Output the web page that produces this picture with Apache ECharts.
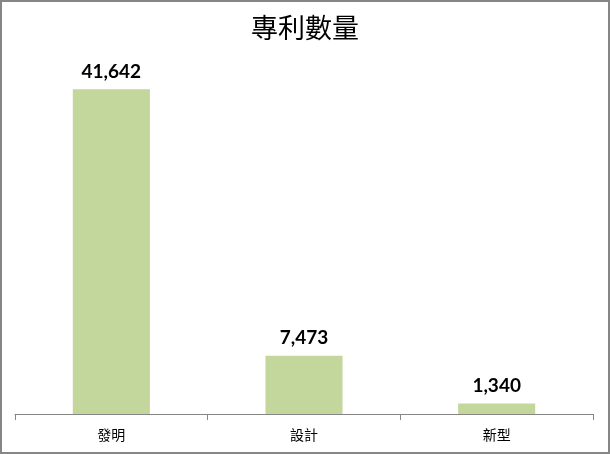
<!DOCTYPE html>
<html>
<head>
<meta charset="utf-8">
<script src="https://cdn.jsdelivr.net/npm/echarts@6/dist/echarts.min.js"></script>
<style>
html,body{margin:0;padding:0;background:#fff;}
#chart{width:610px;height:454px;}
</style>
</head>
<body>
<div id="chart"></div>
<script>
const titleText = '專利數量';
const categories = ['發明', '設計', '新型'];
const values = [41642, 7473, 1340];
const yMax = 45000;

const chart = echarts.init(document.getElementById('chart'));
chart.setOption({
  animation: false,
  backgroundColor: '#ffffff',
  title: {
    text: titleText,
    left: 'center',
    top: 9,
    textStyle: { fontFamily: 'Noto Sans CJK TC', fontSize: 27, fontWeight: 'normal', color: '#000' }
  },
  graphic: [{
    type: 'rect',
    shape: { x: 1, y: 1, width: 608, height: 452 },
    style: { fill: 'none', stroke: '#868686', lineWidth: 2 },
    silent: true
  }],
  grid: { left: 15, right: 17, top: 63, bottom: 40 },
  xAxis: {
    type: 'category',
    data: categories,
    axisLine: { lineStyle: { color: '#868686', width: 1 } },
    axisTick: { show: true, length: 6, lineStyle: { color: '#868686' } },
    axisLabel: { fontFamily: 'Noto Sans CJK TC', fontSize: 14, color: '#000', margin: 14 }
  },
  yAxis: {
    type: 'value',
    min: 0,
    max: yMax,
    show: false,
    splitLine: { show: false }
  },
  series: [{
    type: 'bar',
    data: values,
    barWidth: '40%',
    itemStyle: { color: '#c3d69b' },
    label: {
      show: true,
      position: 'top',
      distance: 8,
      fontFamily: 'Lato',
      fontSize: 19,
      fontWeight: 'bold',
      color: '#000',
      formatter: p => p.value.toLocaleString('en-US')
    }
  }]
});
</script>
</body>
</html>
